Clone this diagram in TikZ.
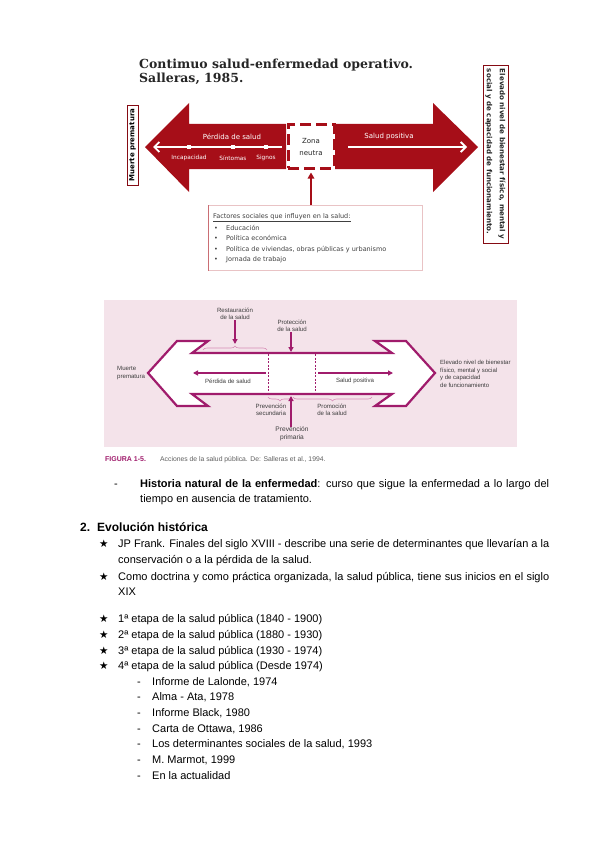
\documentclass[tikz,border=0pt]{standalone}
\usepackage{fontspec}
\setmainfont{Liberation Sans}
\newfontfamily\slabfont{DejaVu Serif}
\newfontfamily\dvsans{DejaVu Sans}
\newfontfamily\symfont{DejaVu Sans}
\usetikzlibrary{arrows.meta,positioning,calc,decorations.pathreplacing}
\definecolor{arrowred}{RGB}{166,14,24}
\definecolor{pinkbg}{RGB}{244,227,234}
\definecolor{plum}{RGB}{160,28,108}
\definecolor{bracepink}{RGB}{214,140,182}
\definecolor{capgrey}{RGB}{95,95,95}
\definecolor{inkgrey}{RGB}{60,60,60}

\begin{document}
\begin{tikzpicture}[x=1pt, y=-1pt,
    whiteline/.style={draw=white, line width=1.8pt},
    redlabel/.style={font=\dvsans\fontsize{7}{8}\selectfont, text=white, inner sep=0pt},
    sublabel/.style={font=\dvsans\fontsize{5.8}{7}\selectfont, text=white, inner sep=0pt},
    factor/.style={anchor=base west, font=\dvsans\fontsize{6.5}{7}\selectfont, text=black!75, inner sep=0pt},
    pinktext/.style={font=\fontsize{6.1}{7.2}\selectfont, text=inkgrey, align=center, inner sep=0pt},
    plumarrow/.style={draw=plum, line width=1.3pt, -{Triangle[length=5pt,width=5pt]}},
    body/.style={anchor=base west, font=\fontsize{11}{13}\selectfont, inner sep=0pt},
    star/.style={anchor=base west, font=\symfont\fontsize{10.5}{12}\selectfont, inner sep=0pt}
]
\useasboundingbox (0,0) rectangle (600,848);
\fill[white] (0,0) rectangle (600,848);

% Continuo salud-enfermedad (Salleras 1985)
\node[anchor=base west, inner sep=0pt, text=black!85, font=\slabfont\bfseries\fontsize{12.5}{14}\selectfont] (title1) at (139,69) {Contimuo salud-enfermedad operativo.};
\node[anchor=base west, inner sep=0pt, text=black!85, font=\slabfont\bfseries\fontsize{12.5}{14}\selectfont] (title2) at (139,83) {Salleras, 1985.};

\fill[arrowred] (145,147) -- (189,103) -- (189,124) -- (286,124) -- (286,169) -- (189,169) -- (189,192) -- cycle;
\fill[arrowred] (478,147) -- (433,103) -- (433,124) -- (335,124) -- (335,169) -- (433,169) -- (433,192) -- cycle;

\node[draw=arrowred, line width=3pt, dash pattern=on 11pt off 5pt, minimum width=46pt, minimum height=43pt,
      align=center, font=\dvsans\fontsize{7}{12}\selectfont, text=black!85] (zona) at (311,146.5) {Zona\\neutra};

\coordinate (lfrom) at (282,147);
\coordinate (lto) at (153,147);
\coordinate (rfrom) at (348,147);
\coordinate (rto) at (467,147);
\draw[whiteline, -{Straight Barb[length=5pt,width=10pt]}] (lfrom) -- (lto);
\draw[whiteline, -{Straight Barb[length=5pt,width=10pt]}] (rfrom) -- (rto);
\foreach \x/\lab in {189/Incapacidad, 233/Síntomas, 266/Signos} {
  \fill[white] (\x-1.6,145.4) rectangle (\x+1.6,148.6);
  \node[sublabel] (sig\x) at (\x,158) {\lab};
}
\node[redlabel] (perdida) at (232,137) {Pérdida de salud};
\node[redlabel] (positiva) at (389,137) {Salud positiva};

\node[draw=arrowred!80!black, line width=0.8pt, fill=white, rotate=90, minimum width=80pt, minimum height=11pt, inner sep=0.5pt,
      font=\dvsans\bfseries\fontsize{7}{8}\selectfont] (muerte) at (132.5,145) {Muerte prematura};
\node[draw=arrowred!80!black, line width=0.7pt, fill=white, rotate=-90, minimum width=178pt, minimum height=25pt,
      align=left, inner sep=1.5pt, font=\dvsans\bfseries\fontsize{7.1}{13}\selectfont, text=black!85] (elevado) at (495.5,154)
      {Elevado nivel de bienestar físico, mental y\\social y de capacidad de funcionamiento.};

% Factores sociales
\node[draw=arrowred!25, line width=0.6pt, fill=white, anchor=north west, minimum width=214pt, minimum height=65pt] (factors) at (208,205) {};
\draw[arrowred!60, line width=0.8pt] (factors.north west) -- (factors.south west);
\draw[arrowred, line width=2pt, -{Triangle[length=6pt,width=6.5pt]}] (factors.north -| zona.south) -- ([yshift=-3pt]zona.south);
\node[factor] (ftitle) at (213,218) {\underline{Factores sociales que influyen en la salud:}};
\foreach \yy/\t [count=\i] in {230/Educación, 240.5/Política económica, 251/{Política de viviendas, obras públicas y urbanismo}, 261.5/Jornada de trabajo} {
  \node[factor] (fdot\i) at (214,\yy) {•};
  \node[factor] (fitem\i) at (226,\yy) {\t};
}

% Acciones de la salud publica (pink figure)
\fill[pinkbg] (104,300) rectangle (517,447);
\draw[plum, line width=2.2pt, fill=white, line join=miter]
  (148,373) -- (177,341) -- (208,341) -- (192,353) -- (392,353) -- (375,341) -- (406,341) -- (435,373)
  -- (406,406) -- (375,406) -- (392,394) -- (192,394) -- (208,406) -- (177,406) -- cycle;
\draw[plum, line width=0.6pt, dash pattern=on 2pt off 1.5pt] (268,354) -- (268,393);
\draw[plum, line width=0.6pt, dash pattern=on 2pt off 1.5pt] (315,354) -- (315,393);

\coordinate (pfrom) at (266,373);
\coordinate (pto) at (193,373);
\coordinate (sfrom) at (318,373);
\coordinate (sto) at (393,373);
\draw[plumarrow] (pfrom) -- (pto);
\draw[plumarrow] (sfrom) -- (sto);
\node[pinktext] (perd2) at (228,381) {Pérdida de salud};
\node[pinktext] (pos2) at (355,381) {Salud positiva};

\draw[bracepink, line width=0.6pt, decorate, decoration={brace, amplitude=4pt}] (203,350) -- (267,350);
\draw[bracepink, line width=0.6pt, decorate, decoration={brace, amplitude=4pt}] (292,397) -- (268,397);
\draw[bracepink, line width=0.6pt, decorate, decoration={brace, amplitude=4pt}] (372,397) -- (293,397);

\node[pinktext] (restaur) at (235,314) {Restauración\\de la salud};
\node[pinktext] (protec) at (292,326) {Protección\\de la salud};
\node[pinktext] (secund) at (271,410) {Prevención\\secundaria};
\node[pinktext] (promoc) at (332,410) {Promoción\\de la salud};
\node[pinktext, font=\fontsize{6.6}{7.8}\selectfont] (primar) at (292,434) {Prevención\\primaria};
\coordinate (restaurtip) at (235,344);
\coordinate (protectip) at (291,352);
\coordinate (primartip) at (291,396);
\draw[plumarrow] (restaur.south -| restaurtip) -- (restaurtip);
\draw[plumarrow] (protec.south -| protectip) -- (protectip);
\draw[plumarrow] (primar.north -| primartip) -- (primartip);

\node[pinktext, align=left, anchor=west] (muerte2) at (117,373) {Muerte\\prematura};
\node[pinktext, align=left, anchor=west, font=\fontsize{6}{7.6}\selectfont] (elevado2) at (440,374)
  {Elevado nivel de bienestar\\físico, mental y social\\y de capacidad\\de funcionamiento};

\node[anchor=base west, inner sep=0pt, text=plum, font=\bfseries\fontsize{7}{8}\selectfont] (figlab) at (105,461) {FIGURA 1-5.};
\node[anchor=base west, inner sep=0pt, text=capgrey, font=\fontsize{6.8}{8}\selectfont] (figcap) at (160,461) {Acciones de la salud pública. De: Salleras et al., 1994.};

% Texto
\node[body] (dash0) at (114,487) {-};
\node[body] (hist1) at (140,487) {\makebox[409pt][s]{\textbf{Historia natural de la enfermedad}: curso que sigue la enfermedad a lo largo del}};
\node[body] (hist2) at (140,502) {tiempo en ausencia de tratamiento.};

\node[body, font=\bfseries\fontsize{12}{14}\selectfont] (secnum) at (80,531) {2.};
\node[body, font=\bfseries\fontsize{12}{14}\selectfont] (sectitle) at (97,531) {Evolución histórica};

\node[star] (stara) at (99,547) {★};
\node[body] (franka) at (118,547) {\makebox[431pt][s]{JP Frank. Finales del siglo XVIII - describe una serie de determinantes que llevarían a la}};
\node[body] (frankb) at (118,563) {conservación o a la pérdida de la salud.};
\node[star] (starb) at (99,580) {★};
\node[body] (doctra) at (118,580) {\makebox[431pt][s]{Como doctrina y como práctica organizada, la salud pública, tiene sus inicios en el siglo}};
\node[body] (doctrb) at (118,595) {XIX};

\foreach \yy/\t [count=\i] in {622/{1ª etapa de la salud pública (1840 - 1900)}, 638/{2ª etapa de la salud pública (1880 - 1930)},
                               654/{3ª etapa de la salud pública (1930 - 1974)}, 669/{4ª etapa de la salud pública (Desde 1974)}} {
  \node[star] (staretapa\i) at (99,\yy) {★};
  \node[body] (etapa\i) at (118,\yy) {\t};
}
\foreach \yy/\t [count=\i] in {685/{Informe de Lalonde, 1974}, 700/{Alma - Ata, 1978}, 716/{Informe Black, 1980}, 732/{Carta de Ottawa, 1986},
                               747/{Los determinantes sociales de la salud, 1993}, 763/{M. Marmot, 1999}, 779/{En la actualidad}} {
  \node[body] (hito\i dash) at (137,\yy) {-};
  \node[body] (hito\i) at (152,\yy) {\t};
}
\end{tikzpicture}
\end{document}
